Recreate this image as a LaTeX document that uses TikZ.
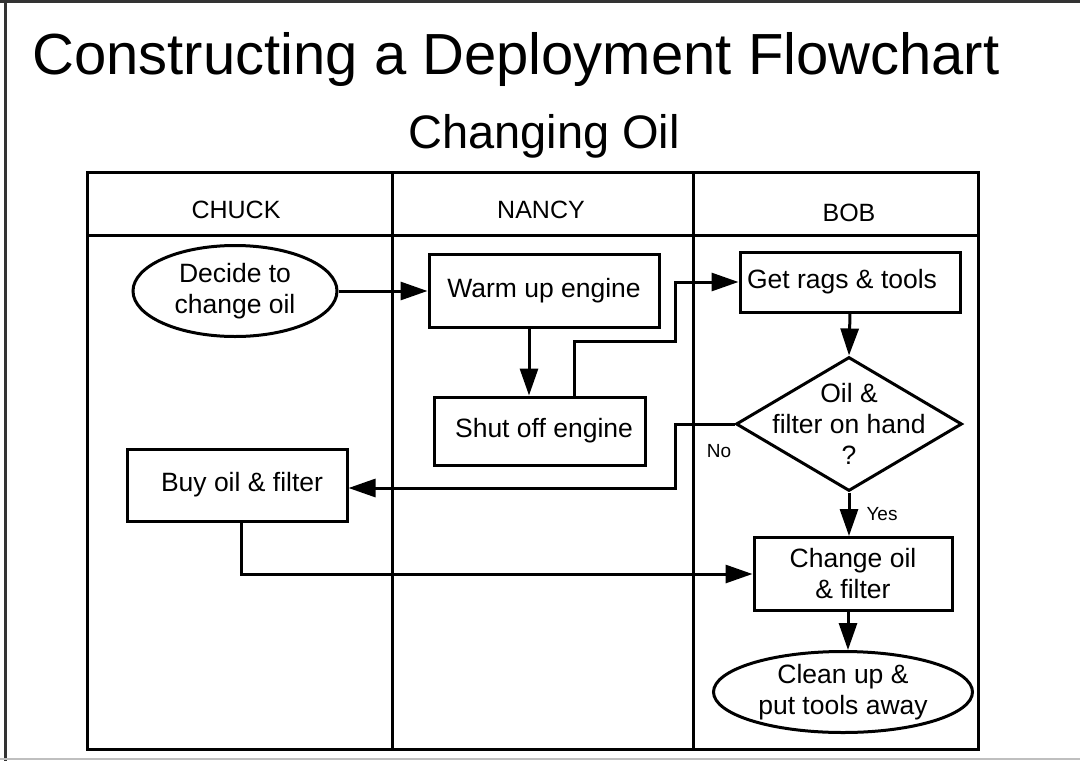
\documentclass[tikz,border=0pt]{standalone}
\usepackage{fontspec}
\setmainfont{Liberation Sans}
\usepackage{tikz}
\usetikzlibrary{shapes.geometric, arrows.meta}
\tikzstyle{arrow} = [line width=3pt,-{Triangle[length=27pt,width=18pt]}]
\tikzstyle{line} = [line width=3pt]
\tikzstyle{process} = [rectangle, draw, line width=3pt, inner sep=0pt, align=center, font=\fontsize{26.5}{31}\selectfont]
\tikzstyle{startstop} = [ellipse, draw, line width=3pt, inner sep=0pt, align=center, font=\fontsize{26.5}{31}\selectfont]
\tikzstyle{decision} = [diamond, draw, line width=3pt, inner sep=0pt]
\tikzstyle{lane} = [anchor=base, font=\fontsize{25}{30}\selectfont]
\tikzstyle{answer} = [font=\fontsize{19}{23}\selectfont]

\begin{document}
\begin{tikzpicture}[x=1pt, y=-1pt]
        \useasboundingbox (0,0) rectangle (1080,761);
        % page frame
        \draw[line width=3pt, black!80] (5,0) -- (5,761);
        \draw[line width=3pt, black!80] (0,1.5) -- (1080,1.5);
        \draw[line width=1.5pt, black!25] (0,759) -- (1080,759);
        \node[anchor=base, font=\fontsize{58}{70}\selectfont] (title) at (516,74) {Constructing a Deployment Flowchart};
        \node[anchor=base, font=\fontsize{47}{56}\selectfont] (subtitle) at (544,148) {Changing Oil};
        % swim lanes
        \draw[line] (87,172) rectangle (978,749);
        \draw[line] (87,235) -- (978,235);
        \draw[line] (392,172) -- (392,749);
        \draw[line] (693,172) -- (693,749);
        \node[lane] (chuck) at (236,218) {CHUCK};
        \node[lane] (nancy) at (541,218) {NANCY};
        \node[lane] (bob) at (849,221) {BOB};
        % steps
        \node[startstop, minimum width=204pt, minimum height=91pt] (decide) at (235,291) {Decide to\\change oil};
        \node[process, minimum width=230pt, minimum height=73pt] (warm) at (544,291) {Warm up engine};
        \node[process, minimum width=211pt, minimum height=68pt] (shut) at (540,431) {\hspace*{8pt}Shut off engine};
        \node[process, minimum width=220pt, minimum height=60pt] (rags) at (850,282) {Get rags \& tools\hspace*{16pt}};
        \node[decision, minimum width=226pt, minimum height=134pt] (onhand) at (849,424) {};
        \node[align=center, font=\fontsize{26.5}{31}\selectfont] (onhandtext) at (onhand.center) {Oil \&\\filter on hand\\?};
        \node[process, minimum width=220pt, minimum height=72pt] (buy) at (237,485) {\hspace*{10pt}Buy oil \& filter};
        \node[process, minimum width=198pt, minimum height=73pt] (change) at (853,574) {Change oil\\\& filter};
        \node[startstop, minimum width=259pt, minimum height=81pt] (clean) at (843,692) {Clean up \&\\put tools away};
        \coordinate (jog) at (675,341);
        \coordinate (nojog) at (675,488);
        \draw[arrow] (decide.east) -- (warm.west);
        \draw[arrow] ([xshift=-15pt]warm.south) -- ([xshift=-15pt]warm.south |- shut.north);
        \draw[arrow] ([xshift=34pt]shut.north) |- (jog) |- (rags.west);
        \draw[arrow] (rags.south) -- (onhand.north);
        \draw[arrow] (onhand.west) -| (nojog) -- (nojog -| buy.east);
        \draw[arrow] (onhand.south) -- (onhand.south |- change.north);
        \draw[arrow] ([xshift=4pt]buy.south) |- (change.west);
        \draw[arrow] ([xshift=-5pt]change.south) -- ([xshift=-5pt]change.south |- clean.north);
        \node[answer] (no) at (719,451) {No};
        \node[answer] (yes) at (882,514) {Yes};
    \end{tikzpicture}
\end{document}
